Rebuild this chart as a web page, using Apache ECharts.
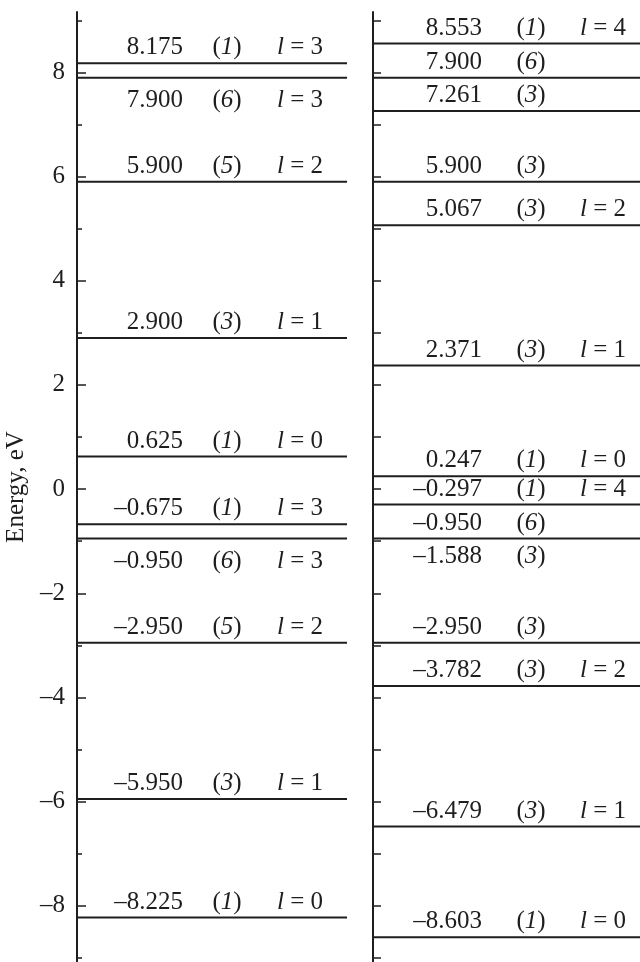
<!DOCTYPE html>
<html>
<head>
<meta charset="utf-8">
<script src="https://cdn.jsdelivr.net/npm/echarts@6/dist/echarts.min.js"></script>
<style>html,body{margin:0;padding:0;background:#fff}#c{width:640px;height:962px}</style>
</head>
<body>
<div id="c"></div>
<script>
// ---- data ----
const leftEnergy = [8.175, 7.900, 5.900, 2.900, 0.625, -0.675, -0.950, -2.950, -5.950, -8.225];
const leftDegeneracy = [1, 6, 5, 3, 1, 1, 6, 5, 3, 1];
const leftOrbital = [3, 3, 2, 1, 0, 3, 3, 2, 1, 0];
const leftHasLine = [true, true, true, true, true, true, true, true, true, true];

const rightEnergy = [8.553, 7.900, 7.261, 5.900, 5.067, 2.371, 0.247, -0.297, -0.950, -1.588, -2.950, -3.782, -6.479, -8.603];
const rightDegeneracy = [1, 6, 3, 3, 3, 3, 1, 1, 6, 3, 3, 3, 3, 1];
const rightOrbital = [4, null, null, null, 2, 1, 0, 4, null, null, null, 2, 1, 0];
const rightHasLine = [true, true, true, true, true, true, true, true, true, false, true, true, true, true];

const majorTicks = [-8, -6, -4, -2, 0, 2, 4, 6, 8];
const minorTicks = [-9, -7, -5, -3, -1, 1, 3, 5, 7, 9];
const rightTicks = [-9, -8, -7, -6, -5, -4, -3, -2, -1, 0, 1, 2, 3, 4, 5, 6, 7, 8, 9];
const axisName = 'Energy, eV';

// ---- layout / style ----
const INK = '#1e1e1e';
const FONT = '"Liberation Serif", "Times New Roman", serif';
const FS = 25;
const Y_MIN = -9.08, Y_MAX = 9.16;
const leftBelow = new Set([1, 6]);
const rightBelow = new Set([]);

function fmt(v) {
  const s = Math.abs(v).toFixed(3);
  return v < 0 ? '\u2013' + s : s;
}

function makeRender(energy, deg, orb, hasLine, below, offs) {
  return function (params, api) {
    const i = params.dataIndex;
    const v = api.value(1);
    const p0 = api.coord([0, v]);
    const p1 = api.coord([1, v]);
    const children = [];
    if (hasLine[i]) {
      children.push({
        type: 'line',
        shape: { x1: p0[0], y1: p0[1], x2: p1[0], y2: p1[1] },
        style: { stroke: INK, lineWidth: 2 }
      });
    }
    const isBelow = below.has(i);
    const ty = isBelow ? p0[1] + 10 : p0[1] - 3;
    const va = isBelow ? 'top' : 'bottom';
    const base = { fill: INK, fontFamily: FONT, fontSize: FS, verticalAlign: va };
    children.push({
      type: 'text', x: p0[0] + offs[0], y: ty,
      style: Object.assign({}, base, { text: fmt(energy[i]), align: 'right' })
    });
    children.push({
      type: 'text', x: p0[0] + offs[1], y: ty,
      style: Object.assign({}, base, {
        text: '{p|(}{i|' + deg[i] + '}{p|)}', align: 'center',
        rich: {
          p: { fontFamily: FONT, fontSize: FS, fill: INK },
          i: { fontFamily: FONT, fontSize: FS, fill: INK, fontStyle: 'italic' }
        }
      })
    });
    if (orb[i] !== null && orb[i] !== undefined) {
      children.push({
        type: 'text', x: p0[0] + offs[2], y: ty,
        style: Object.assign({}, base, {
          text: '{i|l} = ' + orb[i], align: 'left',
          rich: {
            i: { fontFamily: FONT, fontSize: FS, fill: INK, fontStyle: 'italic' }
          }
        })
      });
    }
    return { type: 'group', children: children };
  };
}

const chart = echarts.init(document.getElementById('c'), null, { renderer: 'canvas' });

const baseY = {
  type: 'value', min: Y_MIN, max: Y_MAX,
  splitLine: { show: false }
};

chart.setOption({
  animation: false,
  backgroundColor: '#fff',
  grid: [
    { left: 77, width: 270, top: 12, bottom: 0 },
    { left: 373, right: 0, top: 12, bottom: 0 }
  ],
  xAxis: [
    { gridIndex: 0, type: 'value', min: 0, max: 1, show: false },
    { gridIndex: 1, type: 'value', min: 0, max: 1, show: false }
  ],
  yAxis: [
    Object.assign({}, baseY, {
      gridIndex: 0, position: 'left',
      name: axisName, nameLocation: 'middle', nameGap: 48,
      nameTextStyle: { fontFamily: FONT, fontSize: 25, color: INK },
      axisLine: { show: true, lineStyle: { color: INK, width: 2 } },
      axisTick: { show: true, inside: true, length: 9, lineStyle: { color: INK, width: 1.5 }, customValues: majorTicks },
      axisLabel: {
        show: true, margin: 12, customValues: majorTicks,
        fontFamily: FONT, fontSize: FS, color: INK,
        formatter: function (v) { return v < 0 ? '\u2013' + Math.abs(v) : String(v); }
      }
    }),
    Object.assign({}, baseY, {
      gridIndex: 0, position: 'left',
      axisLine: { show: false },
      axisTick: { show: true, inside: true, length: 5, lineStyle: { color: INK, width: 1.5 }, customValues: minorTicks },
      axisLabel: { show: false }
    }),
    Object.assign({}, baseY, {
      gridIndex: 1, position: 'left',
      axisLine: { show: true, lineStyle: { color: INK, width: 2 } },
      axisTick: { show: true, inside: true, length: 8, lineStyle: { color: INK, width: 1.5 }, customValues: rightTicks },
      axisLabel: { show: false }
    })
  ],
  series: [
    {
      type: 'custom', xAxisIndex: 0, yAxisIndex: 0,
      renderItem: makeRender(leftEnergy, leftDegeneracy, leftOrbital, leftHasLine, leftBelow, [106, 150, 200]),
      data: leftEnergy.map(function (v) { return [0.5, v]; }),
      encode: { x: 0, y: 1 }, clip: false
    },
    {
      type: 'custom', xAxisIndex: 1, yAxisIndex: 2,
      renderItem: makeRender(rightEnergy, rightDegeneracy, rightOrbital, rightHasLine, rightBelow, [109, 158, 207]),
      data: rightEnergy.map(function (v) { return [0.5, v]; }),
      encode: { x: 0, y: 1 }, clip: false
    }
  ]
});
</script>
</body>
</html>
